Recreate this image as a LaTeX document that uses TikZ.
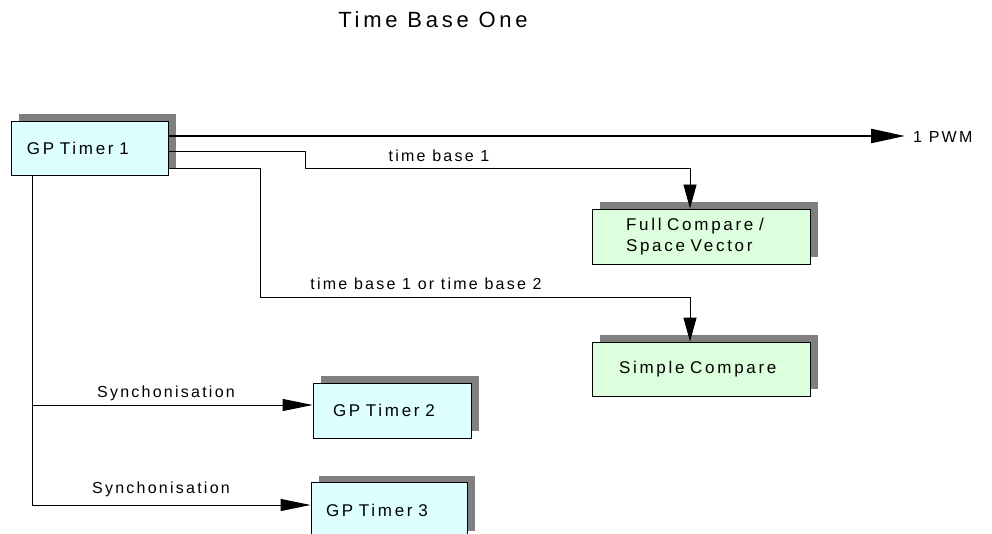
\documentclass[tikz,border=0pt]{standalone}
\usepackage{fontspec}
\setmainfont{Liberation Sans}
\newfontfamily\boxfont[LetterSpace=16]{Liberation Sans}
\newfontfamily\lblfont[LetterSpace=14]{Liberation Sans}
\newfontfamily\ttlfont[LetterSpace=17]{Liberation Sans}
\usetikzlibrary{arrows.meta,shadows}
\definecolor{boxcyan}{HTML}{DDFFFF}
\definecolor{boxgreen}{HTML}{DDFFDD}
\definecolor{shadowgray}{HTML}{808080}
\begin{document}
\begin{tikzpicture}[x=1pt,y=-1pt,
  box/.style={draw=black, line width=0.9pt, minimum height=54pt, inner ysep=0pt,
    align=left, font=\boxfont\fontsize{17}{21}\selectfont,
    drop shadow={shadow xshift=8pt, shadow yshift=7pt, fill=shadowgray, opacity=1}},
  lbl/.style={inner sep=0pt, font=\lblfont\fontsize{16}{19}\selectfont},
  conn/.style={draw=black, line width=0.9pt},
  bigarrow/.style={conn, line width=2.4pt, -{Triangle[length=34pt,width=14pt]}},
  sidearrow/.style={conn, -{Triangle[length=30pt,width=12pt]}},
  downarrow/.style={conn, -{Triangle[length=24pt,width=13pt]}}
]
\useasboundingbox (0,0) rectangle (992,534);

% title
\node[inner sep=0pt, anchor=base, font=\ttlfont\fontsize{22}{26}\selectfont] (ttl) at (433,28) {Time Base One};

% boxes
\node[box, fill=boxcyan, inner xsep=16pt, text width=125pt] (t1) at (89.5,148) {GP Timer 1};
\node[box, fill=boxgreen, minimum height=55pt, inner xsep=34pt, text width=150pt] (fc) at (701,236.5) {Full Compare /\\Space Vector};
\node[box, fill=boxgreen, inner xsep=27pt, text width=164pt] (sc) at (701,369) {Simple Compare};
\node[box, fill=boxcyan, minimum height=55pt, inner xsep=20pt, text width=118pt] (t2) at (392,410.5) {GP Timer 2};
\node[box, fill=boxcyan, minimum height=55pt, inner xsep=15pt, text width=126pt] (t3) at (389,510) {GP Timer 3};

% labels
\node[lbl, anchor=base] (lt1) at (439,162) {time base 1};
\node[lbl, anchor=base] (lt2) at (426,290) {time base 1 or time base 2};
\node[lbl, anchor=base] (ls1) at (166,397) {Synchonisation};
\node[lbl, anchor=base] (ls2) at (161,493) {Synchonisation};
\node[lbl, anchor=west] (pwm) at (913,137) {1 PWM};

% coordinates
\coordinate (tip) at (905,136);
\coordinate (b1) at (305,151);
\coordinate (b2) at (305,168);
\coordinate (b3) at (690,168);
\coordinate (c1) at (260,168);
\coordinate (c2) at (260,297);
\coordinate (c3) at (690,297);
\coordinate (d1) at (32,405);
\coordinate (d0) at (32,505);

% connectors
\draw[bigarrow] (t1.east |- tip) -- (tip);
\draw[downarrow] (t1.east |- b1) -- (b1) -- (b2) -- (b3) -- (b3 |- fc.north);
\draw[downarrow] (t1.east |- c1) -- (c1) -- (c2) -- (c3) -- (c3 |- sc.north);
\draw[conn] (d0 |- t1.south) -- (d0);
\draw[sidearrow] (d1) -- (d1 -| t2.west);
\draw[sidearrow] (d0) -- (d0 -| t3.west);
\end{tikzpicture}
\end{document}
